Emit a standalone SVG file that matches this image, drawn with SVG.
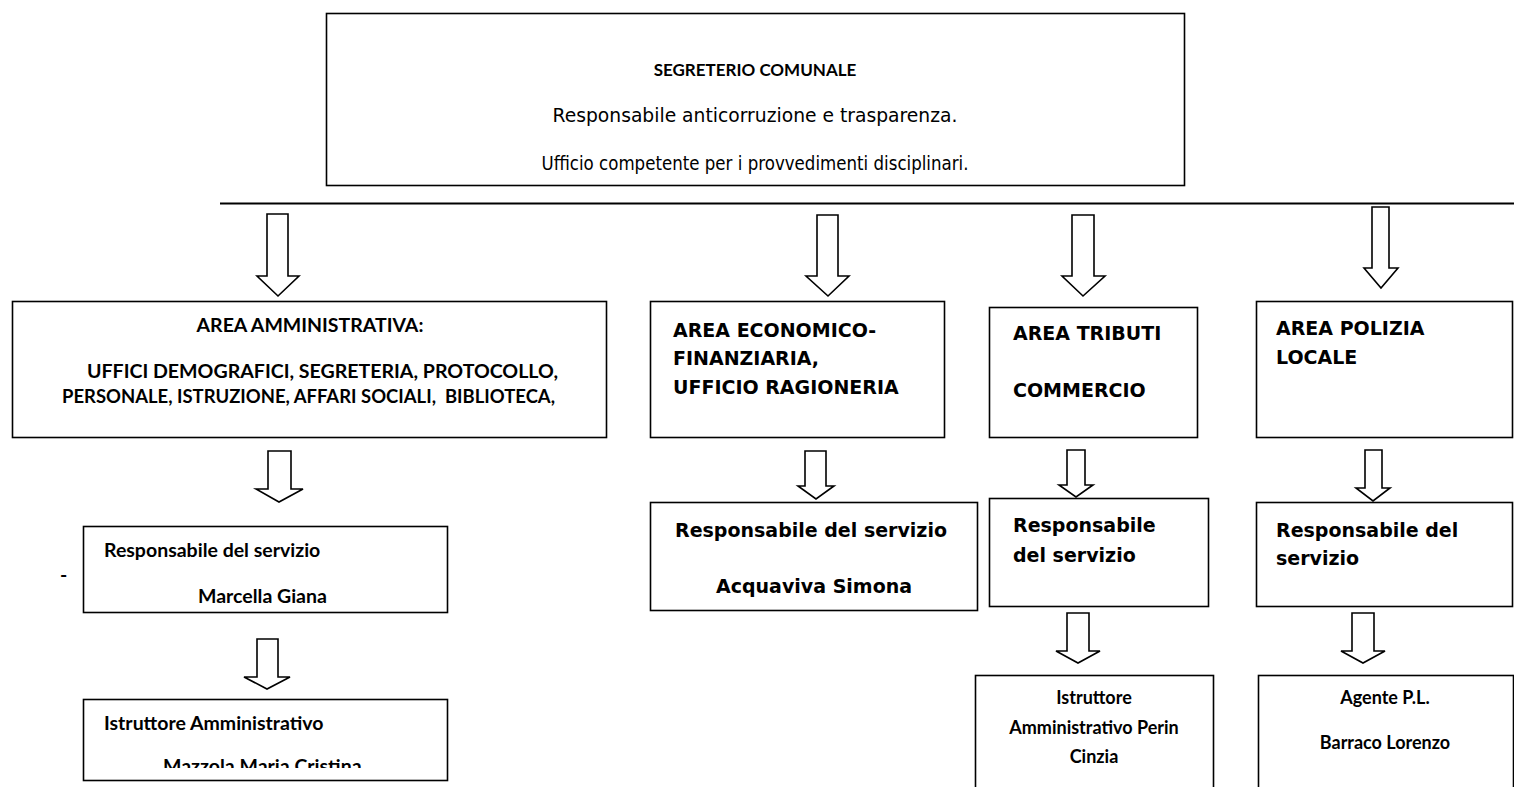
<svg xmlns="http://www.w3.org/2000/svg" width="1514" height="787" viewBox="0 0 1514 787">
<style>
  .box{fill:#fff;stroke:#000;stroke-width:1.6}
  .arr{fill:#fff;stroke:#000;stroke-width:1.6;stroke-linejoin:miter}
  .cal{font-family:Lato,"Open Sans",sans-serif;font-weight:bold;font-size:19.5px;fill:#000}
  .sm{font-size:18px}
  .ver{font-family:"DejaVu Sans",Verdana,sans-serif;font-weight:bold;font-size:19px;fill:#000}
  .tah{font-family:"DejaVu Sans",Tahoma,sans-serif;font-size:19px;fill:#000}
  .mid{text-anchor:middle}
</style>
<defs>
  <clipPath id="clipMaz"><rect x="84" y="700" width="362" height="68"/></clipPath>
</defs>
<rect width="1514" height="787" fill="#fff"/>

<g id="segreterio">
  <rect class="box" x="326.5" y="13.5" width="858" height="172"/>
  <text class="cal mid" x="755" y="76" style="font-size:17px">SEGRETERIO COMUNALE</text>
  <text class="tah mid" x="755" y="122" textLength="405" lengthAdjust="spacingAndGlyphs">Responsabile anticorruzione e trasparenza.</text>
  <text class="tah mid" x="755" y="170" textLength="427" lengthAdjust="spacingAndGlyphs">Ufficio competente per i provvedimenti disciplinari.</text>
</g>

<g id="connectors">
  <line x1="220" y1="203.5" x2="1514" y2="203.5" stroke="#000" stroke-width="2"/>
  <polygon class="arr" points="267,214 288,214 288,276 299,276 278,296 257,276 267,276"/>
  <polygon class="arr" points="817,215 838,215 838,276 849,276 828,296 806,276 817,276"/>
  <polygon class="arr" points="1072,215 1094,215 1094,276 1105,276 1083,296 1062,276 1072,276"/>
  <polygon class="arr" points="1372,207 1389,207 1389,268 1398,268 1381,288 1364,268 1372,268"/>
  <polygon class="arr" points="268,451 291,451 291,489 303,489 279,502 256,489 268,489"/>
  <polygon class="arr" points="805,451 826,451 826,486 834,486 816,499 798,486 805,486"/>
  <polygon class="arr" points="1067,450 1085,450 1085,485 1093,485 1076,497 1059,485 1067,485"/>
  <polygon class="arr" points="1365,450 1382,450 1382,488 1390,488 1373,501 1356,488 1365,488"/>
  <polygon class="arr" points="257,639 278,639 278,677 290,677 267,689 244,677 257,677"/>
  <polygon class="arr" points="1067,613 1089,613 1089,651 1100,651 1078,663 1056,651 1067,651"/>
  <polygon class="arr" points="1352,613 1374,613 1374,651 1385,651 1363,663 1341,651 1352,651"/>
</g>

<g id="area-amministrativa">
  <rect class="box" x="12.5" y="301.5" width="594" height="136"/>
  <text class="cal mid" x="310" y="332">AREA AMMINISTRATIVA:</text>
  <text class="cal" x="87" y="378" textLength="471" lengthAdjust="spacingAndGlyphs">UFFICI DEMOGRAFICI, SEGRETERIA, PROTOCOLLO,</text>
  <text class="cal" x="62" y="403" textLength="493" lengthAdjust="spacingAndGlyphs" xml:space="preserve">PERSONALE, ISTRUZIONE, AFFARI SOCIALI,  BIBLIOTECA,</text>
</g>

<g id="area-economico">
  <rect class="box" x="650.5" y="301.5" width="294" height="136"/>
  <text class="ver" x="673" y="337">AREA ECONOMICO-</text>
  <text class="ver" x="673" y="365">FINANZIARIA,</text>
  <text class="ver" x="673" y="394">UFFICIO RAGIONERIA</text>
</g>

<g id="area-tributi">
  <rect class="box" x="989.5" y="307.5" width="208" height="130"/>
  <text class="ver" x="1013" y="340">AREA TRIBUTI</text>
  <text class="ver" x="1013" y="397">COMMERCIO</text>
</g>

<g id="area-polizia">
  <rect class="box" x="1256.5" y="301.5" width="256" height="136"/>
  <text class="ver" x="1276" y="335">AREA POLIZIA</text>
  <text class="ver" x="1276" y="364">LOCALE</text>
</g>

<g id="resp-amministrativa">
  <rect class="box" x="83.5" y="526.5" width="364" height="86"/>
  <text class="cal" x="104" y="557">Responsabile del servizio</text>
  <text class="cal" x="198" y="603">Marcella Giana</text>
  <text class="cal" x="60" y="582">-</text>
</g>

<g id="resp-economico">
  <rect class="box" x="650.5" y="502.5" width="327" height="108"/>
  <text class="ver" x="675" y="537">Responsabile del servizio</text>
  <text class="ver" x="716" y="593">Acquaviva Simona</text>
</g>

<g id="resp-tributi">
  <rect class="box" x="989.5" y="498.5" width="219" height="108"/>
  <text class="ver" x="1013" y="532">Responsabile</text>
  <text class="ver" x="1013" y="562">del servizio</text>
</g>

<g id="resp-polizia">
  <rect class="box" x="1256.5" y="502.5" width="256" height="104"/>
  <text class="ver" x="1276" y="537">Responsabile del</text>
  <text class="ver" x="1276" y="565">servizio</text>
</g>

<g id="istruttore-amministrativo">
  <rect class="box" x="83.5" y="699.5" width="364" height="81"/>
  <text class="cal" x="104" y="730">Istruttore Amministrativo</text>
  <text class="cal" x="163" y="773" clip-path="url(#clipMaz)">Mazzola Maria Cristina</text>
</g>

<g id="istruttore-perin">
  <rect class="box" x="975.5" y="675.5" width="238" height="120"/>
  <text class="cal sm mid" x="1094" y="704">Istruttore</text>
  <text class="cal sm mid" x="1094" y="734">Amministrativo Perin</text>
  <text class="cal sm mid" x="1094" y="763">Cinzia</text>
</g>

<g id="agente-pl">
  <rect class="box" x="1258.5" y="675.5" width="255" height="120"/>
  <text class="cal sm mid" x="1385" y="704">Agente P.L.</text>
  <text class="cal sm mid" x="1385" y="749">Barraco Lorenzo</text>
</g>
</svg>
